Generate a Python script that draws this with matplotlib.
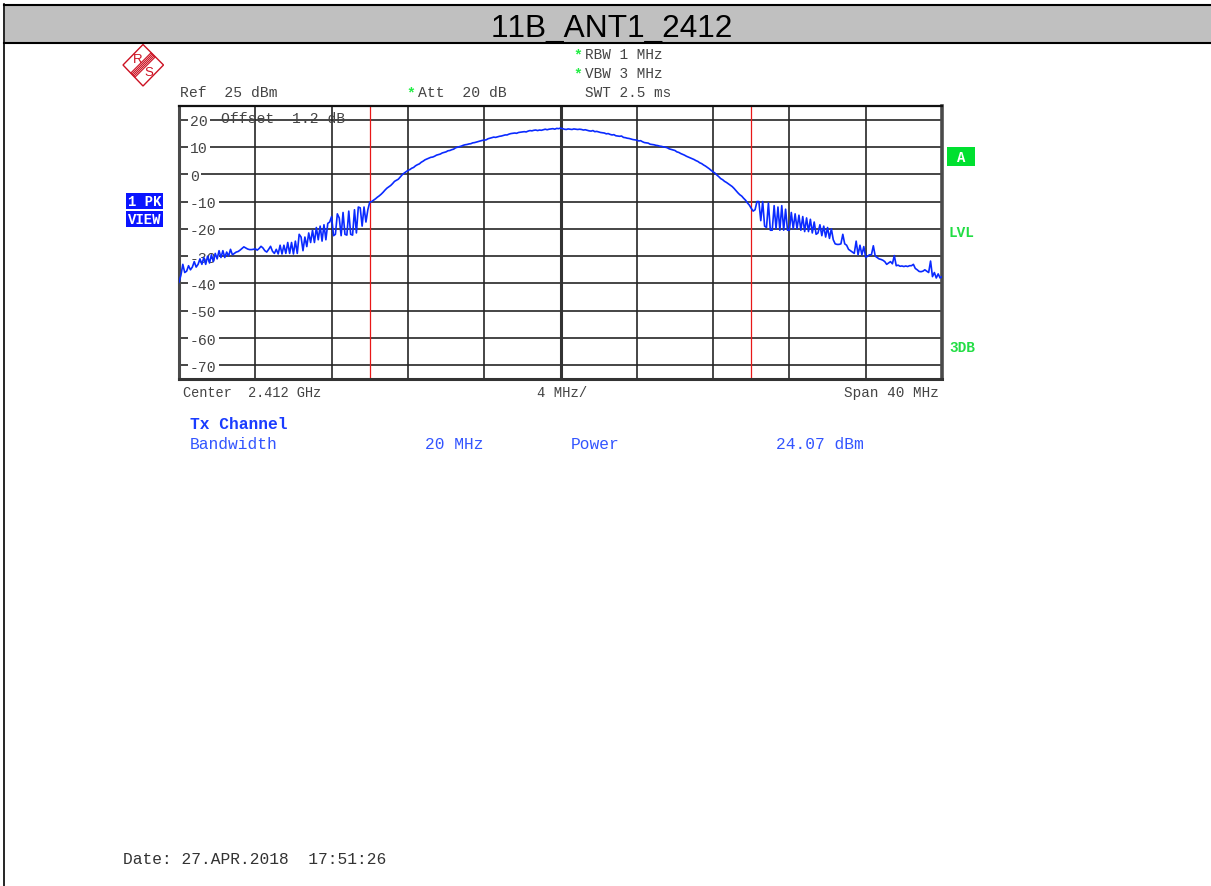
import numpy as np
import matplotlib
matplotlib.use("Agg")
import matplotlib.pyplot as plt
from matplotlib.patches import Rectangle, Polygon

# ---- data ----
center_mhz = 2412
span_mhz = 40
div_mhz = 4
ref_top = 25
ref_bottom = -75
level_ticks = [20, 10, 0, -10, -20, -30, -40, -50, -60, -70]
channel_limits_mhz = [2402, 2422]
trace_dbm = [
    -39.5,-37,-33,-36,-35.5,-33.5,-35,-34,-32,-34,
    -33,-31,-33,-30.5,-33,-30,-32.5,-29.5,-32,-29,
    -31,-28,-30.5,-28,-30.5,-28.5,-30,-27.5,-29.5,-29,
    -28.5,-28.3,-27.8,-27.2,-26.6,-27,-27.4,-27.6,-27.6,-27.5,
    -27.3,-27.8,-27.2,-26.4,-27,-28,-28.5,-27.5,-26.4,-28.2,
    -29,-27.5,-29.2,-26,-29.2,-26,-29,-25,-29,-25,
    -29.2,-24.5,-29,-22,-23,-28,-23,-26.5,-21.5,-25,
    -20.5,-25,-19.5,-24,-19,-24.5,-18.5,-24,-18,-17.5,
    -15.5,-22.5,-22,-14.5,-16,-22.5,-14,-22,-22.3,-13.5,
    -22,-22.3,-13,-21.5,-12,-12.3,-19,-12,-17.5,-13,
    -10.2,-10,-9.5,-9,-8.4,-7.9,-7.3,-6.6,-5.8,-5.1,
    -4.6,-4.1,-3.4,-2.6,-2.2,-1.8,-1,-0.2,0.4,0.9,
    1.4,1.7,2.2,2.5,3.1,3.5,3.8,4.4,4.8,5.3,
    5.6,5.9,6.2,6.3,6.6,7,7.2,7.4,7.8,8,
    8.2,8.6,8.7,9,9.2,9.7,9.9,10.1,10.3,10.6,
    10.8,10.9,11.1,11.2,11.5,11.6,11.8,12,12.2,12.4,
    12.5,12.6,13,13.2,13.4,13.6,13.5,13.7,13.9,14,
    14.2,14.4,14.4,14.7,14.9,15,15.1,15,15.3,15.4,
    15.5,15.6,15.5,15.8,16,15.9,16.1,16.2,16,16.2,
    16.1,16.3,16.5,16.3,16.5,16.6,16.7,16.5,16.8,16.7,
    16.9,16.7,16.5,16.4,16.6,16.5,16.4,16.6,16.5,16.4,
    16.5,16.4,16.2,16.3,16.1,15.9,15.8,16,15.6,15.7,
    15.5,15.3,15.2,15.1,14.8,14.9,14.6,14.4,14.5,14.1,
    14,13.9,14,13.5,13.4,13.2,13.1,12.9,12.7,12.6,
    12.5,12.2,12.3,11.9,11.6,11.5,11.4,11,10.9,10.8,
    10.6,10.5,10.3,10.2,10,9.9,9.7,9.3,9.1,8.9,
    8.7,8.2,8,7.6,7.3,7,6.6,6.3,6,5.7,
    5.4,5,4.7,4.2,3.9,3.4,3,2.5,2,1.4,
    0.9,0.4,-0.3,-0.9,-1.6,-2,-2.6,-3,-3.5,-4,
    -4.5,-5.2,-6,-6.8,-7.5,-8,-8.8,-9.5,-10.5,-11.3,
    -12.5,-13.5,-13,-10,-10,-17,-10,-19,-19.5,-10.5,
    -20.5,-20.5,-11.5,-20,-12,-20.5,-11.5,-20.5,-12.8,-20.5,
    -20.5,-14,-20,-14.5,-20,-15,-20.5,-15.5,-21,-16,
    -21,-16.5,-21.5,-17.5,-22,-21.5,-18.5,-22.5,-19,-23,
    -19.5,-23.5,-20,-24,-25.5,-25.7,-25.7,-25.5,-22,-25.5,
    -26,-27.5,-28,-28.5,-29,-24.5,-29.5,-26,-29.5,-26.5,
    -30.5,-30,-29.5,-29.5,-26.2,-30,-30.5,-31,-31.2,-31.5,
    -32,-33,-32.5,-32,-32.8,-29.8,-33.5,-33.3,-33.7,-33.6,
    -33.8,-33.6,-33.8,-33.5,-33.5,-33,-34.5,-35,-35.6,-35.7,
    -35.5,-35,-35.5,-36,-31.8,-37.5,-36,-38,-36.5,-38,-37.5,
]
title = "11B_ANT1_2412"

W, H = 1211, 887
plt.rcParams['font.family'] = ['Liberation Mono', 'DejaVu Sans Mono']
plt.rcParams['text.kerning_factor'] = 6
fig = plt.figure(figsize=(W / 100, H / 100), dpi=100, facecolor='white')

# overlay in pixel coordinates for the instrument's page furniture
pg = fig.add_axes([0, 0, 1, 1], zorder=5)
pg.set_xlim(0, W); pg.set_ylim(H, 0); pg.axis('off'); pg.patch.set_alpha(0)

# ---- plot ----
L, R, T, B = 179.0, 942.0, 107.0, 380.0
ax = fig.add_axes([L / W, 1 - B / H, (R - L) / W, (B - T) / H], zorder=2)
freqs = np.linspace(center_mhz - span_mhz / 2, center_mhz + span_mhz / 2, len(trace_dbm))
ax.set_xlim(center_mhz - span_mhz / 2, center_mhz + span_mhz / 2)
ax.set_ylim(ref_bottom, ref_top)
ax.set_xticks(np.arange(center_mhz - span_mhz / 2, center_mhz + span_mhz / 2 + 1, div_mhz))
ax.set_xticklabels([])
ax.set_yticks(level_ticks)
ax.set_yticklabels([str(v) for v in level_ticks])
ax.grid(True, color='#262626', lw=1.2)
ax.tick_params(axis='x', length=0)
ax.tick_params(axis='y', length=0, pad=-7.8, labelsize=10.6, labelcolor='#444444')
for lab in ax.get_yticklabels():
    lab.set_ha('left')
    lab.set_bbox(dict(facecolor='white', edgecolor='none', pad=1.6))
ax.axvline(center_mhz, color='#333333', lw=2.2, zorder=1.6)
for f in channel_limits_mhz:
    ax.axvline(f, color='#e81818', lw=0.9, zorder=1.8)
ax.plot(freqs, trace_dbm, color='#0a2aff', lw=1.2, zorder=3)
ax.spines['left'].set(color='#4a4a4a', lw=2.2)
ax.spines['right'].set(color='#4a4a4a', lw=2.6)
ax.spines['top'].set(color='#111111', lw=1.6)
ax.spines['bottom'].set(color='#333333', lw=2.2)

# ---- header band and page border ----
pg.add_patch(Rectangle((5, 6), W - 5, 37.5, fc='#c0c0c0', ec='none', zorder=1))
pg.plot([4, W], [5.8, 5.8], color='black', lw=1.5, zorder=2)
pg.plot([4, W], [43.7, 43.7], color='black', lw=1.5, zorder=2)
pg.plot([4.3, 4.3], [5, H], color='black', lw=1.2, zorder=2)
pg.text(611.5, 37, title, family='Liberation Sans', fontsize=22.8, ha='center', va='baseline',
        color='black', zorder=3)

# ---- R&S logo ----
red = '#cc1122'
pg.add_patch(Polygon([(143, 45.5), (163.5, 66), (143, 87), (123, 66)], closed=True,
                     fc='white', ec=red, lw=1.0))
for d in (-3, -1.5, 0, 1.5, 3):
    pg.plot([153 + d * 0.7, 133 + d * 0.7], [56 + d * 0.7, 76 + d * 0.7], color=red, lw=0.8)
pg.text(137.5, 60, 'R', family='Liberation Sans', fontsize=9.5, color=red, ha='center', va='center')
pg.text(149, 73, 'S', family='Liberation Sans', fontsize=9.5, color=red, ha='center', va='center')

# ---- instrument text ----
grey = '#444444'
def t(x, y, s, size=10.6, color=grey, ha='left', weight='normal'):
    pg.text(x, y, s, fontsize=size, color=color, ha=ha, va='center', weight=weight, zorder=4)

star = '#22ee44'
t(585, 55, 'RBW 1 MHz', size=10.4)
t(585, 74, 'VBW 3 MHz', size=10.4)
t(585, 93, 'SWT 2.5 ms', size=10.4)
t(573, 55, '*', color=star, weight='bold')
t(573, 74, '*', color=star, weight='bold')
t(406, 93, '*', color=star, weight='bold')
t(418, 93, 'Att  20 dB')
t(180, 93, 'Ref  25 dBm')
t(221, 119, 'Offset  1.2 dB')
t(183, 393, 'Center  2.412 GHz', size=9.8)
t(537, 393, '4 MHz/', size=10)
t(939, 393, 'Span 40 MHz', size=10.4, ha='right')

blue = '#3355ff'
t(190, 425, 'Tx Channel', size=11.7, color='#1a3cff', weight='bold')
t(190, 445, 'Bandwidth', size=11.7, color=blue)
t(425, 445, '20 MHz', size=11.7, color=blue)
t(571, 445, 'Power', size=11.7, color=blue)
t(776, 445, '24.07 dBm', size=11.7, color=blue)
t(123, 860, 'Date: 27.APR.2018  17:51:26', size=11.7, color='#333333')

# ---- side labels ----
for y0, y1, s in [(194, 210, '1 PK'), (212, 228, 'VIEW')]:
    pg.add_patch(Rectangle((126, y0), 37, y1 - y0, fc='#0a14ff', ec='none'))
    pg.text(144.5, (y0 + y1) / 2, s, fontsize=10, color='white', ha='center', va='center', weight='bold')
pg.add_patch(Rectangle((947, 148), 28, 19, fc='#00e030', ec='none'))
pg.text(961, 157.5, 'A', fontsize=10, color='white', ha='center', va='center', weight='bold')
t(949, 233.5, 'LVL', size=10.4, color='#22dd44', weight='bold')
t(949, 348.5, '3DB', size=10.4, color='#22dd44', weight='bold')

fig.savefig('out.png', dpi=100, facecolor='white')
